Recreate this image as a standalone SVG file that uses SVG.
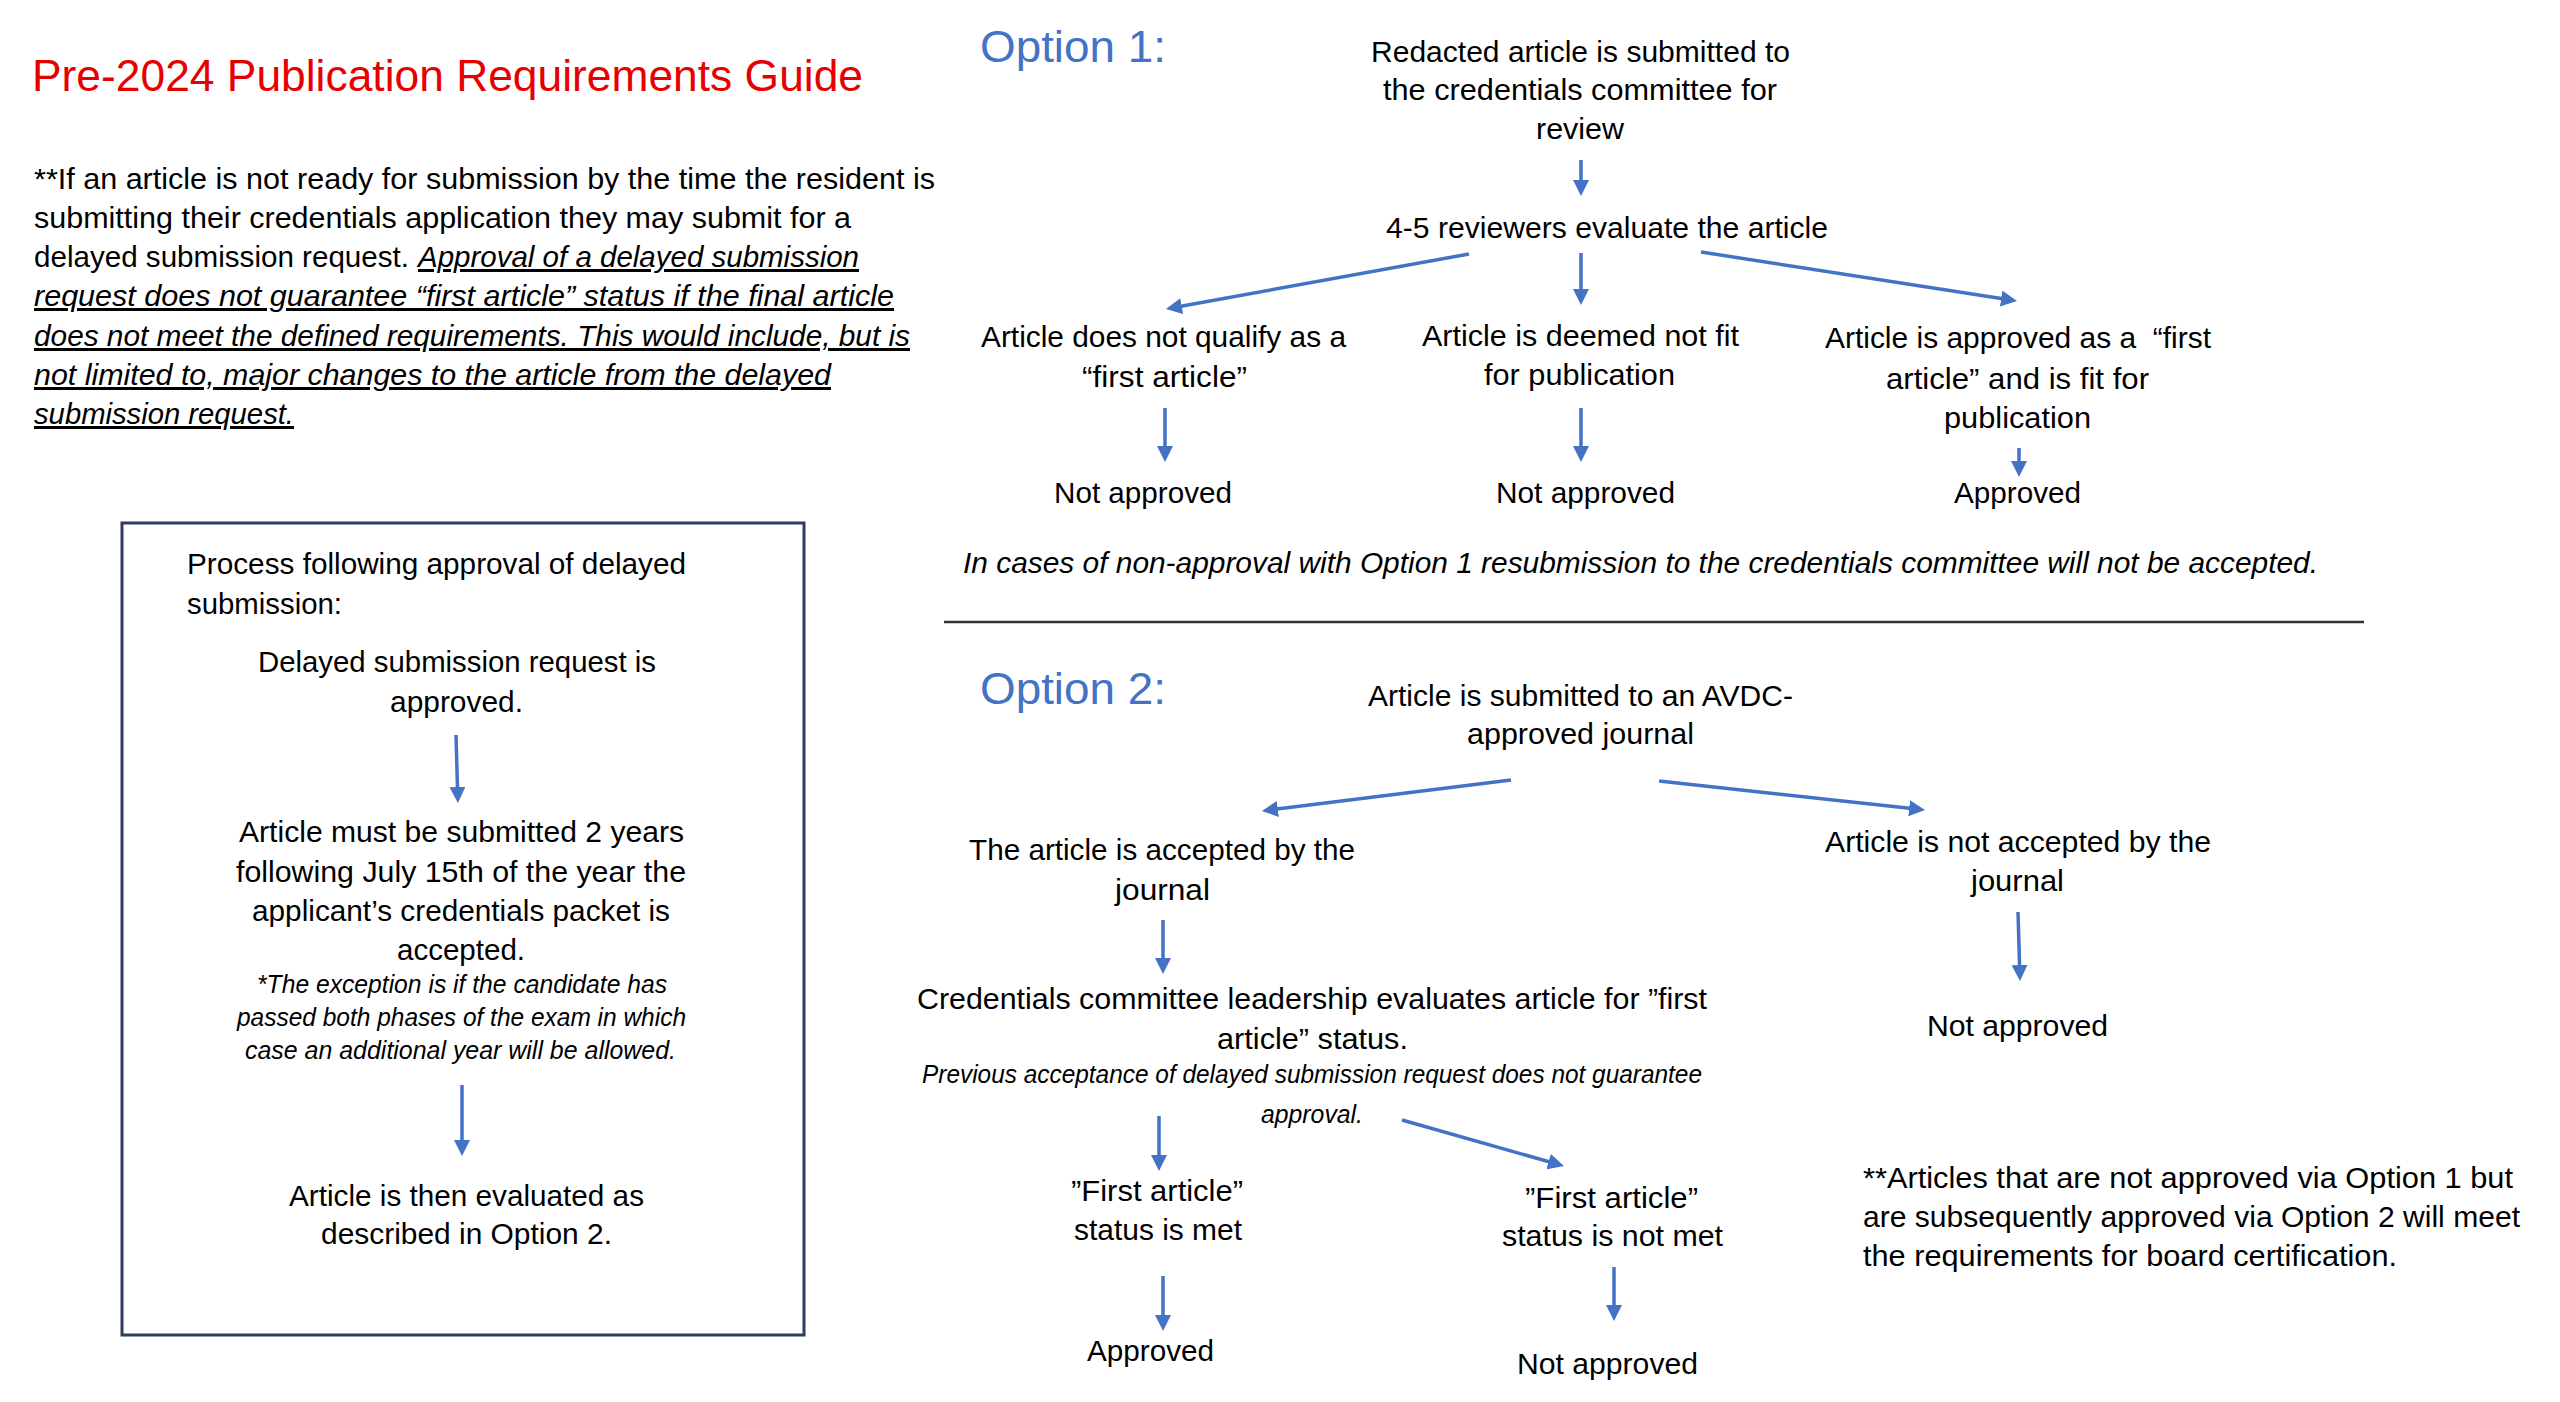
<svg xmlns="http://www.w3.org/2000/svg" width="2560" height="1402" viewBox="0 0 2560 1402">
<style>
text{font-family:"Liberation Sans",Arial,sans-serif;font-size:30px;fill:#000}
.i{font-style:italic}
.u{text-decoration:underline}
.s{font-size:25px}
.title{font-size:44px;fill:#E60000}
.opt{font-size:44px;fill:#4472C4}
.c{stroke:#4472C4;stroke-width:3.5;fill:none;marker-end:url(#ah)}
</style>
<defs>
<marker id="ah" markerUnits="userSpaceOnUse" markerWidth="16" markerHeight="16" viewBox="0 0 16 16" refX="5" refY="8" orient="auto">
<path d="M0,0 L16,8 L0,16 z" fill="#4472C4"/>
</marker>
</defs>
<rect width="2560" height="1402" fill="#fff"/>

<g id="title"><text class="title" x="32" y="91" textLength="831" lengthAdjust="spacingAndGlyphs">Pre-2024 Publication Requirements Guide</text></g>

<g id="intro-note">
<text x="34" y="189" textLength="901" lengthAdjust="spacingAndGlyphs">**If an article is not ready for submission by the time the resident is</text>
<text x="34" y="228" textLength="817" lengthAdjust="spacingAndGlyphs">submitting their credentials application they may submit for a</text>
<text x="34" y="267" textLength="375" lengthAdjust="spacingAndGlyphs">delayed submission request.</text>
<text class="i u" x="418" y="267" textLength="441" lengthAdjust="spacingAndGlyphs">Approval of a delayed submission</text>
<text class="i u" x="34" y="306" textLength="860" lengthAdjust="spacingAndGlyphs">request does not guarantee “first article” status if the final article</text>
<text class="i u" x="34" y="346" textLength="876" lengthAdjust="spacingAndGlyphs">does not meet the defined requirements. This would include, but is</text>
<text class="i u" x="34" y="385" textLength="797" lengthAdjust="spacingAndGlyphs">not limited to, major changes to the article from the delayed</text>
<text class="i u" x="34" y="424" textLength="260" lengthAdjust="spacingAndGlyphs">submission request.</text>
</g>

<g id="delayed-box">
<rect x="122" y="523" width="682" height="812" fill="none" stroke="#2E3D5E" stroke-width="3"/>
<text x="187" y="574" textLength="499" lengthAdjust="spacingAndGlyphs">Process following approval of delayed</text>
<text x="187" y="614" textLength="155" lengthAdjust="spacingAndGlyphs">submission:</text>
</g>
<g id="box-step1">
<text x="258" y="672" textLength="398" lengthAdjust="spacingAndGlyphs">Delayed submission request is</text>
<text x="390" y="712" textLength="133" lengthAdjust="spacingAndGlyphs">approved.</text>
</g>
<g id="box-step2">
<text x="239" y="842" textLength="445" lengthAdjust="spacingAndGlyphs">Article must be submitted 2 years</text>
<text x="236" y="882" textLength="450" lengthAdjust="spacingAndGlyphs">following July 15th of the year the</text>
<text x="252" y="921" textLength="418" lengthAdjust="spacingAndGlyphs">applicant’s credentials packet is</text>
<text x="397" y="960" textLength="128" lengthAdjust="spacingAndGlyphs">accepted.</text>
<text class="i s" x="257" y="993" textLength="410" lengthAdjust="spacingAndGlyphs">*The exception is if the candidate has</text>
<text class="i s" x="237" y="1026" textLength="449" lengthAdjust="spacingAndGlyphs">passed both phases of the exam in which</text>
<text class="i s" x="245" y="1059" textLength="431" lengthAdjust="spacingAndGlyphs">case an additional year will be allowed.</text>
</g>
<g id="box-step3">
<text x="289" y="1206" textLength="355" lengthAdjust="spacingAndGlyphs">Article is then evaluated as</text>
<text x="321" y="1244" textLength="291" lengthAdjust="spacingAndGlyphs">described in Option 2.</text>
</g>

<g id="option1-label"><text class="opt" x="980" y="62" textLength="186" lengthAdjust="spacingAndGlyphs">Option 1:</text></g>
<g id="o1-submit">
<text x="1371" y="62" textLength="419" lengthAdjust="spacingAndGlyphs">Redacted article is submitted to</text>
<text x="1383" y="100" textLength="394" lengthAdjust="spacingAndGlyphs">the credentials committee for</text>
<text x="1536" y="139" textLength="88" lengthAdjust="spacingAndGlyphs">review</text>
</g>
<g id="o1-review"><text x="1386" y="238" textLength="442" lengthAdjust="spacingAndGlyphs">4-5 reviewers evaluate the article</text></g>
<g id="o1-notqualify">
<text x="981" y="347" textLength="365" lengthAdjust="spacingAndGlyphs">Article does not qualify as a</text>
<text x="1082" y="387" textLength="165" lengthAdjust="spacingAndGlyphs">“first article”</text>
</g>
<g id="o1-notfit">
<text x="1422" y="346" textLength="317" lengthAdjust="spacingAndGlyphs">Article is deemed not fit</text>
<text x="1484" y="385" textLength="191" lengthAdjust="spacingAndGlyphs">for publication</text>
</g>
<g id="o1-approvedfirst">
<text x="1825" y="348" textLength="386" lengthAdjust="spacingAndGlyphs" style="white-space:pre">Article is approved as a  “first</text>
<text x="1886" y="389" textLength="263" lengthAdjust="spacingAndGlyphs">article” and is fit for</text>
<text x="1944" y="428" textLength="147" lengthAdjust="spacingAndGlyphs">publication</text>
</g>
<g id="o1-result1"><text x="1054" y="503" textLength="178" lengthAdjust="spacingAndGlyphs">Not approved</text></g>
<g id="o1-result2"><text x="1496" y="503" textLength="179" lengthAdjust="spacingAndGlyphs">Not approved</text></g>
<g id="o1-result3"><text x="1954" y="503" textLength="127" lengthAdjust="spacingAndGlyphs">Approved</text></g>
<g id="o1-note"><text class="i" x="963" y="573" textLength="1355" lengthAdjust="spacingAndGlyphs">In cases of non-approval with Option 1 resubmission to the credentials committee will not be accepted.</text></g>

<g id="divider"><line x1="944" y1="622" x2="2364" y2="622" stroke="#333" stroke-width="2.5"/></g>

<g id="option2-label"><text class="opt" x="980" y="704" textLength="186" lengthAdjust="spacingAndGlyphs">Option 2:</text></g>
<g id="o2-submit">
<text x="1368" y="706" textLength="425" lengthAdjust="spacingAndGlyphs">Article is submitted to an AVDC-</text>
<text x="1467" y="744" textLength="227" lengthAdjust="spacingAndGlyphs">approved journal</text>
</g>
<g id="o2-accepted">
<text x="969" y="860" textLength="386" lengthAdjust="spacingAndGlyphs">The article is accepted by the</text>
<text x="1115" y="900" textLength="95" lengthAdjust="spacingAndGlyphs">journal</text>
</g>
<g id="o2-notaccepted">
<text x="1825" y="852" textLength="386" lengthAdjust="spacingAndGlyphs">Article is not accepted by the</text>
<text x="1971" y="891" textLength="93" lengthAdjust="spacingAndGlyphs">journal</text>
</g>
<g id="o2-notapproved-journal"><text x="1927" y="1036" textLength="181" lengthAdjust="spacingAndGlyphs">Not approved</text></g>
<g id="o2-evaluate">
<text x="917" y="1009" textLength="790" lengthAdjust="spacingAndGlyphs">Credentials committee leadership evaluates article for ”first</text>
<text x="1217" y="1049" textLength="191" lengthAdjust="spacingAndGlyphs">article” status.</text>
<text class="i s" x="922" y="1083" textLength="780" lengthAdjust="spacingAndGlyphs">Previous acceptance of delayed submission request does not guarantee</text>
<text class="i s" x="1261" y="1123" textLength="102" lengthAdjust="spacingAndGlyphs">approval.</text>
</g>
<g id="o2-met">
<text x="1071" y="1201" textLength="172" lengthAdjust="spacingAndGlyphs">”First article”</text>
<text x="1074" y="1240" textLength="168" lengthAdjust="spacingAndGlyphs">status is met</text>
</g>
<g id="o2-notmet">
<text x="1525" y="1208" textLength="173" lengthAdjust="spacingAndGlyphs">”First article”</text>
<text x="1502" y="1246" textLength="221" lengthAdjust="spacingAndGlyphs">status is not met</text>
</g>
<g id="o2-approved"><text x="1087" y="1361" textLength="127" lengthAdjust="spacingAndGlyphs">Approved</text></g>
<g id="o2-notapproved"><text x="1517" y="1374" textLength="181" lengthAdjust="spacingAndGlyphs">Not approved</text></g>
<g id="footnote">
<text x="1863" y="1188" textLength="650" lengthAdjust="spacingAndGlyphs">**Articles that are not approved via Option 1 but</text>
<text x="1863" y="1227" textLength="657" lengthAdjust="spacingAndGlyphs">are subsequently approved via Option 2 will meet</text>
<text x="1863" y="1266" textLength="534" lengthAdjust="spacingAndGlyphs">the requirements for board certification.</text>
</g>

<g id="connectors">
<line class="c" x1="456" y1="735" x2="457.6" y2="792"/>
<line class="c" x1="462" y1="1085" x2="462" y2="1145"/>
<line class="c" x1="1581" y1="160" x2="1581" y2="185"/>
<line class="c" x1="1469" y1="254" x2="1176.8" y2="307"/>
<line class="c" x1="1581" y1="253" x2="1581" y2="294"/>
<line class="c" x1="1701" y1="252" x2="2006.1" y2="299.3"/>
<line class="c" x1="1165" y1="408" x2="1165" y2="451"/>
<line class="c" x1="1581" y1="408" x2="1581" y2="451"/>
<line class="c" x1="2019" y1="448" x2="2019" y2="466"/>
<line class="c" x1="1511" y1="780" x2="1272.9" y2="809.6"/>
<line class="c" x1="1659" y1="781" x2="1914.1" y2="808.8"/>
<line class="c" x1="1163" y1="920" x2="1163" y2="963"/>
<line class="c" x1="2018" y1="912" x2="2019.7" y2="970"/>
<line class="c" x1="1159" y1="1116" x2="1159" y2="1160"/>
<line class="c" x1="1402" y1="1120" x2="1553.4" y2="1163"/>
<line class="c" x1="1163" y1="1276" x2="1163" y2="1320"/>
<line class="c" x1="1614" y1="1267" x2="1614" y2="1310"/>
</g>
</svg>
